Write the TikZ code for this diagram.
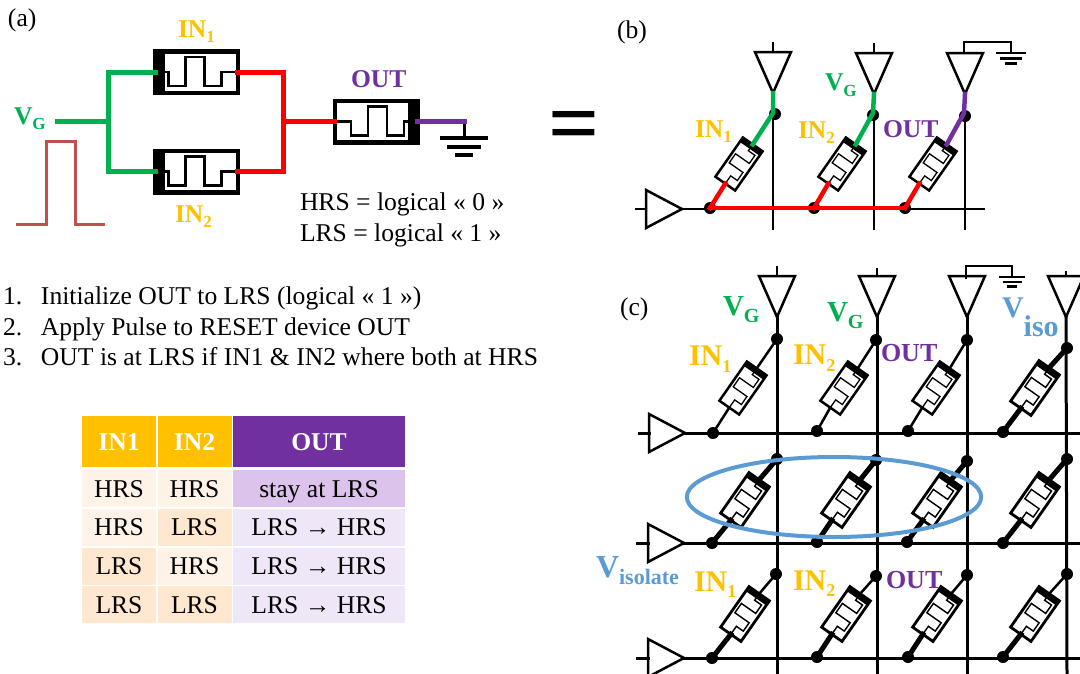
\documentclass[tikz,border=0pt]{standalone}
\usepackage{fontspec}
\setmainfont{Liberation Serif}
\usetikzlibrary{positioning}
\begin{document}
\begin{tikzpicture}[x=1pt,y=-1pt,line cap=rect,
	memr/.pic={
		\draw [fill=white] (-41.25,-20.75) rectangle (41.25,20.75);
		\fill (32,-20.75) rectangle (41.25,20.75);
		\draw [line width=0.72\pgflinewidth] (-41.25,0) -- (-25,0) -- (-25,14) -- (-8,14) -- (-8,-15) -- (11,-15) -- (11,14) -- (28,14) -- (28,0) -- (33,0);
		\coordinate (-a) at (-41.25,0);
		\coordinate (-b) at (41.25,0);
	},
	tridown/.pic={
		\draw [fill=white] (-18,-41) -- (18,-41) -- (0,0) -- cycle;
		\coordinate (-in) at (0,-41);
		\coordinate (-out) at (0,0);
	},
	triright/.pic={
		\draw [fill=white] (-36,-19) -- (-36,19) -- (0,0) -- cycle;
		\coordinate (-in) at (-36,0);
		\coordinate (-out) at (0,0);
	},
	gnd/.pic={
		\draw (-22,0) -- (22,0);
		\draw (-15,9) -- (15,9);
		\draw (-7,17) -- (7,17);
		\coordinate (-in) at (0,0);
	},
	memflat/.style={line width=4.5pt},
	memcell/.style={rotate=55,scale=0.58,line width=2.5pt},
	memcellb/.style={rotate=55,scale=0.6,line width=2.8pt},
	wire/.style={line width=2.5pt},
	wirec/.style={line width=3pt},
	leadthick/.style={line width=5pt},
	jdot/.style={circle,fill=black,inner sep=0,minimum size=12pt},
	lab/.style={inner sep=0,outer sep=0,anchor=base west},
	tcell/.style={inner sep=0,outer sep=0,text height=18pt,text depth=1pt,minimum height=37pt},
	thead/.style={inner sep=0,outer sep=0,text height=18pt,text depth=1pt,minimum height=51pt,text=white,font=\bfseries}]
	\def\labfont#1{\fontsize{#1pt}{#1pt}\bfseries\selectfont}
	\def\subtxt#1#2#3{\raisebox{-#2pt}{\fontsize{#1pt}{#1pt}\bfseries\selectfont #3}}
	\definecolor{custcol_ff_c0_0}{RGB}{255, 192, 0}
	\definecolor{custcol_70_30_a0}{RGB}{112, 48, 160}
	\definecolor{custcol_0_b0_50}{RGB}{0, 176, 80}
	\definecolor{custcol_5b_9b_d5}{RGB}{91, 155, 213}
	\definecolor{custcol_c0_50_4d}{RGB}{192, 80, 77}
	\definecolor{custcol_ff_f3_e8}{RGB}{255, 243, 232}
	\definecolor{custcol_ff_e7_d0}{RGB}{255, 231, 208}
	\definecolor{custcol_dc_c3_ec}{RGB}{220, 195, 236}
	\definecolor{custcol_ef_e7_f7}{RGB}{239, 231, 247}
	\useasboundingbox (0,0) rectangle (1080,673);
	% panel a
	\fontsize{25.6pt}{25.6pt}\selectfont
	\node [lab] (lblA) at (8,26) {(a)};
	\pic [memflat,xscale=-1] (in1) at (196.5,72) {memr};
	\pic [memflat,xscale=-1] (in2) at (196.5,171.5) {memr};
	\pic [memflat] (out) at (376,121.5) {memr};
	\coordinate (aVg) at (57,121.5);
	\coordinate (aGj) at (108,121.5);
	\coordinate (aGt) at (108,72);
	\coordinate (aGb) at (108,171.5);
	\coordinate (aRt) at (283,72);
	\coordinate (aRb) at (283,171.5);
	\coordinate (aRj) at (283,121.5);
	\coordinate (aEnd) at (464,121.5);
	\pic [line width=4pt] (aGnd) at (464,138) {gnd};
	\draw [line width=5pt, custcol_0_b0_50] (aVg) -- (aGj);
	\draw [line width=5pt, custcol_0_b0_50] (in1-b) -- (aGt) -- (aGb) -- (in2-b);
	\draw [line width=5pt, red] (in1-a) -- (aRt) -- (aRb) -- (in2-a);
	\draw [line width=5pt, red] (aRj) -- (out-a);
	\draw [line width=3pt] (aEnd) -- (aGnd-in);
	\draw [line width=5pt, custcol_70_30_a0] (out-b) -- (aEnd);
	\coordinate (puA) at (17,224);
	\coordinate (puB) at (46,224);
	\coordinate (puC) at (46,141);
	\coordinate (puD) at (75,141);
	\coordinate (puE) at (75,224);
	\coordinate (puF) at (103,224);
	\draw [line width=3pt, custcol_c0_50_4d] (puA) -- (puB) -- (puC) -- (puD) -- (puE) -- (puF);
	\node [lab, custcol_0_b0_50] (aLblVg) at (14,124) {\labfont{25.6}V\subtxt{17}{5}{G}};
	\node [lab, custcol_ff_c0_0] (aLblIn1) at (178,37) {\labfont{25.6}IN\subtxt{17}{5}{1}};
	\node [lab, custcol_ff_c0_0] (aLblIn2) at (175,222) {\labfont{25.6}IN\subtxt{17}{5}{2}};
	\node [lab, custcol_70_30_a0] (aLblOut) at (351,87) {\labfont{25.6}OUT};
	\node [lab] (lblHrs) at (300,210) {HRS = logical « 0 »};
	\node [lab] (lblLrs) at (300,241) {LRS = logical « 1 »};
	\node [lab] (lblEq) at (548,153) {\fontsize{90pt}{90pt}\bfseries\selectfont =};
	% steps
	\node [lab] (st1n) at (3,304) {1.};
	\node [lab] (st1) at (41,304) {Initialize OUT to LRS (logical « 1 »)};
	\node [lab] (st2n) at (3,335) {2.};
	\node [lab] (st2) at (41,335) {Apply Pulse to RESET device OUT};
	\node [lab] (st3n) at (3,365) {3.};
	\node [lab] (st3) at (41,365) {OUT is at LRS if IN1 \& IN2 where both at HRS};
	% table
	\node [thead, fill=custcol_ff_c0_0, minimum width=74pt] (th1) at (119,441.5) {IN1};
	\node [thead, fill=custcol_ff_c0_0, minimum width=74pt] (th2) at (194.5,441.5) {IN2};
	\node [thead, fill=custcol_70_30_a0, minimum width=172pt] (th3) at (319,441.5) {OUT};
	\node [tcell, fill=custcol_ff_f3_e8, minimum width=74pt] (t11) at (119,488.5) {HRS};
	\node [tcell, fill=custcol_ff_f3_e8, minimum width=74pt] (t12) at (194.5,488.5) {HRS};
	\node [tcell, fill=custcol_dc_c3_ec, minimum width=172pt] (t13) at (319,488.5) {stay at LRS};
	\node [tcell, fill=custcol_ff_f3_e8, minimum width=74pt] (t21) at (119,527) {HRS};
	\node [tcell, fill=custcol_ff_e7_d0, minimum width=74pt] (t22) at (194.5,527) {LRS};
	\node [tcell, fill=custcol_ef_e7_f7, minimum width=172pt] (t23) at (319,527) {LRS → HRS};
	\node [tcell, fill=custcol_ff_e7_d0, minimum width=74pt] (t31) at (119,566) {LRS};
	\node [tcell, fill=custcol_ff_f3_e8, minimum width=74pt] (t32) at (194.5,566) {HRS};
	\node [tcell, fill=custcol_ef_e7_f7, minimum width=172pt] (t33) at (319,566) {LRS → HRS};
	\node [tcell, fill=custcol_ff_e7_d0, minimum width=74pt] (t41) at (119,604.5) {LRS};
	\node [tcell, fill=custcol_ff_e7_d0, minimum width=74pt] (t42) at (194.5,604.5) {LRS};
	\node [tcell, fill=custcol_ef_e7_f7, minimum width=172pt] (t43) at (319,604.5) {LRS → HRS};
	% panel b
	\node [lab] (lblB) at (617,38) {(b)};
	\coordinate (bHs) at (636,209);
	\coordinate (bHe) at (984,209);
	\coordinate (bV1) at (773,229);
	\coordinate (bV2) at (874,229);
	\coordinate (bV3) at (965,229);
	\pic [wire] (bTr) at (682,209) {triright};
	\pic [wire] (bT1) at (773,93) {tridown};
	\pic [wire] (bT2) at (874,94) {tridown};
	\pic [wire] (bT3) at (965,94) {tridown};
	\coordinate (bS1) at (773,43);
	\coordinate (bS2) at (874,44);
	\coordinate (bGa) at (964,42);
	\coordinate (bGb) at (1011,42);
	\coordinate (bGc) at (964,53);
	\pic [line width=2.5pt,scale=0.62] (bGnd) at (1011,53) {gnd};
	\draw [wire] (bS1) -- (bT1-in);
	\draw [wire] (bS2) -- (bT2-in);
	\draw [line width=2pt] (bGc) -- (bGa) -- (bGb) -- (bGnd-in);
	\draw [wire] (bHs) -- (bTr-in);
	\draw [wire] (bTr-out) -- (bHe);
	\draw [wire] (bT1-out) -- (bV1);
	\draw [wire] (bT2-out) -- (bV2);
	\draw [wire] (bT3-out) -- (bV3);
	\node [jdot] (bDa1) at (775,114) {};
	\node [jdot] (bDa2) at (873,115) {};
	\node [jdot] (bDa3) at (965,116) {};
	\node [jdot] (bDb1) at (710,208) {};
	\node [jdot] (bDb2) at (814,208) {};
	\node [jdot] (bDb3) at (905,208) {};
	\pic [memcell] (b1) at (739,164) {memr};
	\pic [memcell] (b2) at (842,164) {memr};
	\pic [memcell] (b3) at (933,164) {memr};
	\coordinate (bE1) at (773,113);
	\coordinate (bE2) at (873,113);
	\coordinate (bE3) at (964,113);
	\draw [line width=4.5pt, custcol_0_b0_50] (bT1-out) -- (bE1) -- (b1-b);
	\draw [line width=4.5pt, custcol_0_b0_50] (bT2-out) -- (bE2) -- (b2-b);
	\draw [line width=4.5pt, custcol_70_30_a0] (bT3-out) -- (bE3) -- (b3-b);
	\draw [line width=4.5pt, red] (bDb1.center) -- (bDb3.center);
	\draw [line width=4.5pt, red] (bDb1.center) -- (b1-a);
	\draw [line width=4.5pt, red] (bDb2.center) -- (b2-a);
	\draw [line width=4.5pt, red] (bDb3.center) -- (b3-a);
	\node [lab, custcol_ff_c0_0] (bLblIn1) at (695,137) {\labfont{25.6}IN\subtxt{17}{5}{1}};
	\node [lab, custcol_ff_c0_0] (bLblIn2) at (798,138) {\labfont{25.6}IN\subtxt{17}{5}{2}};
	\node [lab, custcol_70_30_a0] (bLblOut) at (883,137) {\labfont{25.6}OUT};
	\node [lab, custcol_0_b0_50] (bLblVg) at (825,90) {\labfont{25.6}V\subtxt{17}{6}{G}};
	% panel c
	\node [lab] (lblC) at (620,315) {(c)};
	\coordinate (cV1) at (777,673);
	\coordinate (cV2) at (877,673);
	\coordinate (cV3) at (967,673);
	\coordinate (cV4) at (1067,673);
	\coordinate (cH1) at (1080,433);
	\coordinate (cH2) at (1080,543);
	\coordinate (cH3) at (1080,658);
	\pic [wire] (cTr1) at (685,433) {triright};
	\pic [wire] (cTr2) at (684,543) {triright};
	\pic [wire] (cTr3) at (684,658) {triright};
	\coordinate (cHs1) at (639,433);
	\coordinate (cHs2) at (637,543);
	\coordinate (cHs3) at (637,658);
	\pic [wire] (cT1) at (777,317) {tridown};
	\pic [wire] (cT2) at (877,317) {tridown};
	\pic [wire] (cT3) at (967,317) {tridown};
	\pic [wire] (cT4) at (1066,317) {tridown};
	\coordinate (cS1) at (777,267);
	\coordinate (cS2) at (877,269);
	\coordinate (cS4) at (1066,272);
	\coordinate (cGa) at (966,266);
	\coordinate (cGb) at (1012,266);
	\coordinate (cGc) at (966,278);
	\pic [line width=2.5pt,scale=0.55] (cGnd) at (1012,277) {gnd};
	\draw [wire] (cS1) -- (cT1-in);
	\draw [wire] (cS2) -- (cT2-in);
	\draw [wire] (cS4) -- (cT4-in);
	\draw [line width=2pt] (cGc) -- (cGa) -- (cGb) -- (cGnd-in);
	\draw [wirec] (cHs1) -- (cTr1-in);
	\draw [wirec] (cHs2) -- (cTr2-in);
	\draw [wirec] (cHs3) -- (cTr3-in);
	\draw [wirec] (cTr1-out) -- (cH1);
	\draw [wirec] (cTr2-out) -- (cH2);
	\draw [wirec] (cTr3-out) -- (cH3);
	\draw [wirec] (cT1-out) -- (cV1);
	\draw [wirec] (cT2-out) -- (cV2);
	\draw [wirec] (cT3-out) -- (cV3);
	\draw [wirec] (cT4-out) -- (cV4);
	\node [jdot] (cDa11) at (777,339) {};
	\node [jdot] (cDa12) at (876,340) {};
	\node [jdot] (cDa13) at (967,340) {};
	\node [jdot] (cDa14) at (1067,348) {};
	\node [jdot] (cDb11) at (713,433) {};
	\node [jdot] (cDb12) at (817,431) {};
	\node [jdot] (cDb13) at (908,431) {};
	\node [jdot] (cDb14) at (1003,432) {};
	\node [jdot] (cDa21) at (777,459) {};
	\node [jdot] (cDa22) at (876,460) {};
	\node [jdot] (cDa23) at (967,461) {};
	\node [jdot] (cDa24) at (1067,459) {};
	\node [jdot] (cDb21) at (712,543) {};
	\node [jdot] (cDb22) at (817,542) {};
	\node [jdot] (cDb23) at (907,542) {};
	\node [jdot] (cDb24) at (1003,543) {};
	\node [jdot] (cDa31) at (776,574) {};
	\node [jdot] (cDa32) at (876,576) {};
	\node [jdot] (cDa33) at (967,575) {};
	\node [jdot] (cDa34) at (1067,574) {};
	\node [jdot] (cDb31) at (712,658) {};
	\node [jdot] (cDb32) at (817,657) {};
	\node [jdot] (cDb33) at (908,657) {};
	\node [jdot] (cDb34) at (1003,657) {};
	\pic [memcell] (c11) at (743,388) {memr};
	\pic [memcell] (c12) at (844,388) {memr};
	\pic [memcell] (c13) at (936,388) {memr};
	\pic [memcellb] (c14) at (1035,388) {memr};
	\pic [memcellb] (c21) at (745,500) {memr};
	\pic [memcellb] (c22) at (846,500) {memr};
	\pic [memcellb] (c23) at (937,500) {memr};
	\pic [memcellb] (c24) at (1035,500) {memr};
	\pic [memcellb] (c31) at (745,614) {memr};
	\pic [memcellb] (c32) at (846,614) {memr};
	\pic [memcellb] (c33) at (937,614) {memr};
	\pic [memcellb] (c34) at (1035,614) {memr};
	\draw [wire] (cDa11) -- (c11-b);
	\draw [wire] (cDb11) -- (c11-a);
	\draw [wire] (cDa12) -- (c12-b);
	\draw [wire] (cDb12) -- (c12-a);
	\draw [wire] (cDa13) -- (c13-b);
	\draw [wire] (cDb13) -- (c13-a);
	\draw [leadthick] (cDa14) -- (c14-b);
	\draw [leadthick] (cDb14) -- (c14-a);
	\draw [leadthick] (cDa21) -- (c21-b);
	\draw [leadthick] (cDb21) -- (c21-a);
	\draw [leadthick] (cDa22) -- (c22-b);
	\draw [leadthick] (cDb22) -- (c22-a);
	\draw [leadthick] (cDa23) -- (c23-b);
	\draw [leadthick] (cDb23) -- (c23-a);
	\draw [leadthick] (cDa24) -- (c24-b);
	\draw [leadthick] (cDb24) -- (c24-a);
	\draw [wire] (cDa31) -- (c31-b);
	\draw [leadthick] (cDb31) -- (c31-a);
	\draw [wire] (cDa32) -- (c32-b);
	\draw [leadthick] (cDb32) -- (c32-a);
	\draw [wire] (cDa33) -- (c33-b);
	\draw [leadthick] (cDb33) -- (c33-a);
	\draw [wire] (cDa34) -- (c34-b);
	\draw [leadthick] (cDb34) -- (c34-a);
	\node [draw=custcol_5b_9b_d5, line width=4pt, circle, inner sep=0, minimum size=80pt, xscale=3.68] (cIso) at (834,497) {};
	\node [lab, custcol_0_b0_50] (cLblVg1) at (723,315) {\labfont{29}V\subtxt{20}{7}{G}};
	\node [lab, custcol_0_b0_50] (cLblVg2) at (827,321) {\labfont{29}V\subtxt{20}{7}{G}};
	\node [lab, custcol_ff_c0_0] (cLblIn1) at (689,365) {\labfont{30}IN\subtxt{18}{7}{1}};
	\node [lab, custcol_ff_c0_0] (cLblIn2) at (793,364) {\labfont{30}IN\subtxt{18}{7}{2}};
	\node [lab, custcol_70_30_a0] (cLblOut) at (881,361) {\labfont{26}OUT};
	\node [lab, custcol_5b_9b_d5] (cLblViso) at (1002,317) {\labfont{30}V\subtxt{30}{19}{iso}};
	\node [lab, custcol_5b_9b_d5] (cLblVis2) at (596,577) {\labfont{32}V\subtxt{22}{7}{isolate}};
	\node [lab, custcol_ff_c0_0] (cLblIn3) at (694,591) {\labfont{30}IN\subtxt{18}{6}{1}};
	\node [lab, custcol_ff_c0_0] (cLblIn4) at (793,590) {\labfont{30}IN\subtxt{18}{6}{2}};
	\node [lab, custcol_70_30_a0] (cLblOut2) at (886,588) {\labfont{26}OUT};
\end{tikzpicture}
\end{document}
